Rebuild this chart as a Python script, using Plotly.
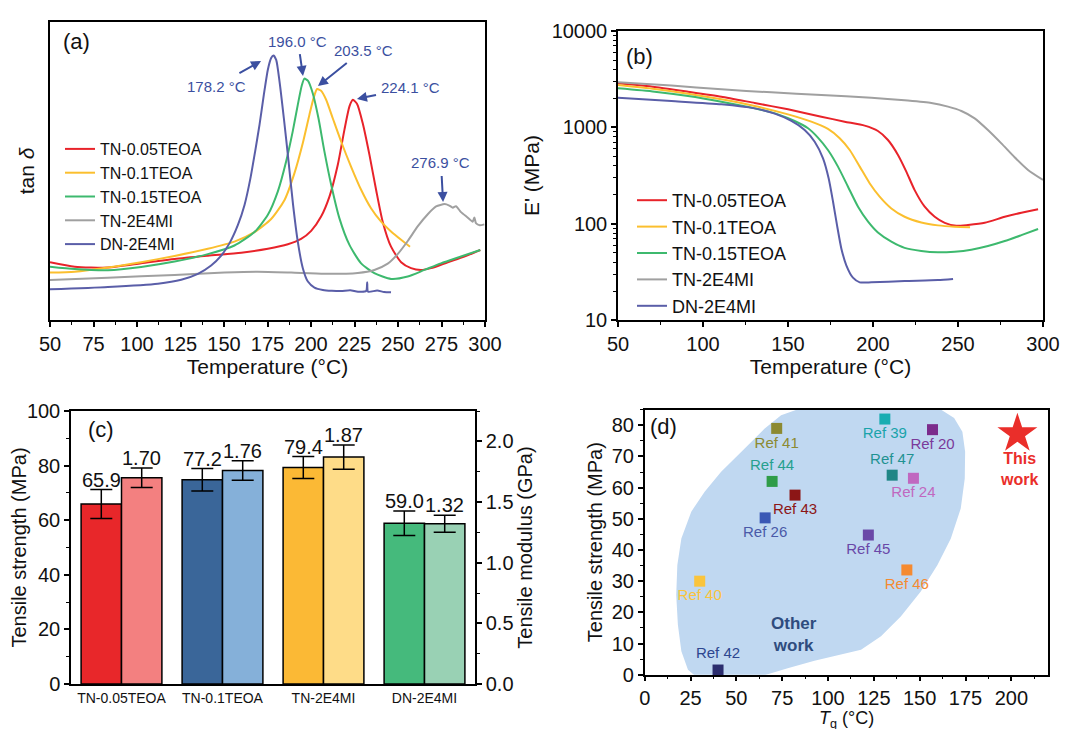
import plotly.graph_objects as go

# ---------------- (a) tan delta vs temperature (relative units) ----------------
a_T_red = [50.0, 64.2, 83.3, 102.4, 121.6, 140.7, 159.9, 175.2, 186.7, 194.3, 200.1, 205.8, 210.6, 215.4,
           219.2, 222.1, 224.1, 226.5, 229.7, 233.6, 237.4, 241.2, 246.0, 251.8, 257.5, 263.2, 269.0,
           278.6, 288.1, 297.3]
a_tan_red = [0.194, 0.179, 0.176, 0.190, 0.205, 0.216, 0.226, 0.239, 0.254, 0.272, 0.299, 0.347, 0.414,
             0.521, 0.638, 0.717, 0.739, 0.725, 0.661, 0.554, 0.437, 0.330, 0.246, 0.194, 0.174, 0.168,
             0.174, 0.194, 0.213, 0.235]

a_T_yellow = [50.0, 64.2, 83.3, 102.4, 121.6, 140.7, 156.0, 167.5, 177.1, 184.8, 190.5, 195.3, 199.1,
              201.6, 203.5, 205.8, 208.7, 212.5, 217.3, 223.0, 228.8, 234.5, 240.3, 246.0, 251.8, 256.9]
a_tan_yellow = [0.159, 0.162, 0.176, 0.194, 0.215, 0.239, 0.263, 0.295, 0.339, 0.403, 0.493, 0.594,
                0.689, 0.747, 0.775, 0.769, 0.739, 0.677, 0.599, 0.515, 0.437, 0.375, 0.330, 0.297,
                0.269, 0.246]

a_T_green = [50.0, 64.2, 83.3, 102.4, 121.6, 140.7, 156.0, 167.5, 175.2, 180.9, 185.7, 189.5, 192.4,
             194.7, 196.2, 198.2, 201.0, 204.3, 207.7, 211.6, 216.3, 222.1, 228.8, 236.4, 246.0, 255.6,
             265.2, 274.7, 286.2, 297.3]
a_tan_green = [0.179, 0.171, 0.167, 0.178, 0.196, 0.221, 0.250, 0.295, 0.353, 0.431, 0.532, 0.633,
               0.722, 0.787, 0.810, 0.803, 0.761, 0.677, 0.566, 0.454, 0.342, 0.252, 0.190, 0.157,
               0.138, 0.146, 0.168, 0.190, 0.213, 0.235]

a_T_gray = [50.0, 83.3, 121.6, 150.3, 169.4, 188.6, 207.7, 226.9, 236.4, 244.1, 249.8, 255.6, 261.3,
            267.1, 271.9, 276.8, 279.5, 281.5, 283.3, 286.2, 290.0, 292.9, 293.9, 294.8, 297.0, 299.6]
a_tan_gray = [0.134, 0.142, 0.151, 0.159, 0.162, 0.159, 0.155, 0.158, 0.168, 0.189, 0.221, 0.265,
              0.314, 0.355, 0.381, 0.389, 0.384, 0.377, 0.382, 0.362, 0.344, 0.330, 0.344, 0.325,
              0.318, 0.321]

a_T_blue = [50.0, 83.3, 112.0, 125.4, 135.0, 142.6, 148.4, 153.2, 158.0, 161.8, 165.2, 167.9, 170.4,
            172.9, 175.2, 177.1, 178.4, 180.0, 181.9, 184.4, 187.1, 189.7, 192.4, 195.3, 198.2, 202.0,
            206.8, 212.0, 217.3, 222.5, 227.0, 231.7, 232.3, 232.8, 238.0, 242.0, 246.0]
a_tan_blue = [0.103, 0.111, 0.122, 0.135, 0.155, 0.183, 0.216, 0.258, 0.319, 0.386, 0.476, 0.566,
              0.655, 0.756, 0.840, 0.879, 0.888, 0.873, 0.801, 0.677, 0.532, 0.386, 0.263, 0.174,
              0.129, 0.109, 0.101, 0.098, 0.097, 0.100, 0.095, 0.097, 0.127, 0.095, 0.099, 0.094, 0.093]

peak_labels = ["178.2 °C", "196.0 °C", "203.5 °C", "224.1 °C", "276.9 °C"]

# ---------------- (b) storage modulus E' (MPa) ----------------
b_T_red = [50, 71.6, 91.2, 110.8, 130.4, 150.0, 169.6, 183.3, 195.1, 202.9, 208.8, 214.7, 219.6, 224.5,
           230.4, 236.3, 242.2, 249.0, 255.9, 265.7, 277.5, 287.3, 297.1]
b_E_red = [2864, 2624, 2345, 2081, 1790, 1538, 1291, 1145, 1041, 916, 739, 517, 347, 223, 150, 118,
           102, 95, 97, 102, 118, 130, 141]

b_T_yellow = [50, 71.6, 91.2, 110.8, 130.4, 150.0, 163.7, 173.5, 180.4, 186.3, 192.2, 198.0, 203.9,
              210.8, 218.6, 228.4, 238.2, 248.0, 257.1]
b_E_yellow = [2748, 2500, 2236, 1953, 1665, 1364, 1146, 962, 770, 582, 391, 263, 191, 144, 118, 103,
              96, 93, 92]

b_T_green = [50, 71.6, 91.2, 110.8, 130.4, 144.1, 153.9, 161.8, 167.6, 173.5, 179.4, 185.3, 191.2,
             197.1, 202.9, 210.8, 218.6, 228.4, 238.2, 248.0, 257.8, 267.6, 277.5, 287.3, 297.1]
b_E_green = [2541, 2345, 2114, 1846, 1574, 1364, 1164, 977, 782, 582, 391, 242, 150, 105, 81, 65, 56,
             52, 50.4, 51.2, 53.7, 58.6, 66, 76, 88]

b_T_gray = [50, 81.4, 110.8, 140.2, 169.6, 199.0, 218.6, 234.3, 244.1, 252.0, 259.8, 267.6, 275.5,
            283.3, 291.2, 300.0]
b_E_gray = [2932, 2710, 2478, 2307, 2167, 2033, 1907, 1790, 1640, 1479, 1240, 938, 682, 489, 361, 284]

b_T_blue = [50, 81.4, 110.8, 130.4, 142.2, 152.0, 159.8, 165.7, 170.6, 173.9, 176.5, 178.8, 181.4,
            184.3, 188.2, 192.2, 199.0, 218.6, 238.2, 247.1]
b_E_blue = [2033, 1876, 1734, 1574, 1386, 1164, 938, 709, 476, 296, 169, 97, 55, 37, 27.5, 24.6, 24.6,
            25.4, 26.0, 26.7]

b_tickvals = [10, 100, 1000, 10000]
b_ticktext = ["10", "100", "1000", "10000"]

series_names = ["TN-0.05TEOA", "TN-0.1TEOA", "TN-0.15TEOA", "TN-2E4MI", "DN-2E4MI"]
series_colors = ["#e8232a", "#fbbf2e", "#3db96e", "#a0a0a0", "#5a5ea8"]

# ---------------- (c) tensile properties ----------------
c_cats = ["TN-0.05TEOA", "TN-0.1TEOA", "TN-2E4MI", "DN-2E4MI"]
c_strength = [65.9, 74.8, 79.3, 58.9]
c_strength_err = [5.3, 4.1, 4.0, 4.5]
c_strength_labels = ["65.9", "77.2", "79.4", "59.0"]
c_modulus = [1.70, 1.76, 1.87, 1.32]
c_modulus_err = [0.08, 0.08, 0.10, 0.07]
c_modulus_labels = ["1.70", "1.76", "1.87", "1.32"]
c_strength_colors = ["#e8272a", "#3a6699", "#fbb935", "#45ba7c"]
c_modulus_colors = ["#f38080", "#85b0d9", "#fedc88", "#99d1b4"]

# ---------------- (d) Tg vs tensile strength ----------------
d_refs = ["Ref 41", "Ref 39", "Ref 20", "Ref 44", "Ref 47", "Ref 24", "Ref 43", "Ref 26", "Ref 45",
          "Ref 46", "Ref 40", "Ref 42"]
d_Tg = [72, 131, 157, 69.5, 135, 146.6, 82, 65.7, 122, 143, 30, 40]
d_TS = [79, 82, 78.6, 62, 64, 63, 57.6, 50.3, 44.8, 33.6, 30, 1.5]
d_marker_colors = ["#8c8a32", "#19adb2", "#7b2c8c", "#2f9c48", "#1f8686", "#c068c0", "#8c1616",
                   "#3a58b5", "#6a48a8", "#f58a30", "#fac43c", "#2b2d6e"]
d_label_colors = ["#8c8a32", "#19a3aa", "#7a3a9a", "#26a08e", "#1f9292", "#c068c0", "#8c1616",
                  "#4a5aa8", "#6a48a8", "#f58a30", "#fac43c", "#2d4690"]
d_label_pos = ["bottom center", "bottom center", "bottom center", "top center", "top center",
               "bottom center", "bottom center", "bottom center", "bottom center", "bottom center",
               "bottom center", "top center"]
d_this_Tg = [203.3]
d_this_TS = [77.3]
d_blob_Tg = [17.2, 17.8, 20.0, 25.4, 32.7, 41.7, 54.4, 65.3, 74.4, 85.3, 96.2, 114.3, 132.5, 150.6,
             161.5, 168.8, 173.3, 174.8, 174.6, 172.4, 167.0, 159.7, 150.6, 139.7, 128.9, 118.0, 107.1,
             92.6, 78.0, 63.5, 50.8, 38.1, 29.0, 23.6, 20.0, 18.1, 17.2]
d_blob_TS = [25.6, 35.2, 43.7, 52.3, 58.7, 65.1, 72.5, 78.9, 83.2, 85.5, 86.4, 86.6, 86.6, 86.4, 85.1,
             82.3, 77.9, 71.5, 62.9, 53.3, 43.7, 35.2, 26.7, 18.7, 12.3, 8.0, 6.4, 4.5, 2.1, -0.5, -2.1,
             -2.3, -1.1, 1.6, 7.5, 16.0, 25.6]

# ---------------- figure ----------------
W, H = 1070, 729
FONT = "Arial, Liberation Sans, sans-serif"
ANN_BLUE = "#3b4fa0"


def px(x):
    return x / W


def py(y):
    return 1 - y / H


fig = go.Figure()

a_data = [(a_T_red, a_tan_red), (a_T_yellow, a_tan_yellow), (a_T_green, a_tan_green),
          (a_T_gray, a_tan_gray), (a_T_blue, a_tan_blue)]
for (xs, ys), name, col in zip(a_data, series_names, series_colors):
    fig.add_trace(go.Scatter(x=xs, y=ys, mode="lines", name=name, xaxis="x", yaxis="y",
                             line=dict(color=col, width=2, shape="spline", smoothing=0.6),
                             legend="legend"))

b_data = [(b_T_red, b_E_red), (b_T_yellow, b_E_yellow), (b_T_green, b_E_green),
          (b_T_gray, b_E_gray), (b_T_blue, b_E_blue)]
for (xs, ys), name, col in zip(b_data, series_names, series_colors):
    fig.add_trace(go.Scatter(x=xs, y=ys, mode="lines", name=name, xaxis="x2", yaxis="y2",
                             line=dict(color=col, width=2, shape="spline", smoothing=0.6),
                             legend="legend2"))

fig.add_trace(go.Bar(x=c_cats, y=c_strength, xaxis="x3", yaxis="y3", offsetgroup="s",
                     marker=dict(color=c_strength_colors, line=dict(color="black", width=1.5)),
                     error_y=dict(type="data", array=c_strength_err, color="black", thickness=1.5,
                                  width=11),
                     showlegend=False))
fig.add_trace(go.Bar(x=c_cats, y=c_modulus, xaxis="x3", yaxis="y4", offsetgroup="m",
                     marker=dict(color=c_modulus_colors, line=dict(color="black", width=1.5)),
                     error_y=dict(type="data", array=c_modulus_err, color="black", thickness=1.5,
                                  width=11),
                     showlegend=False))

fig.add_trace(go.Scatter(x=d_blob_Tg, y=d_blob_TS, xaxis="x4", yaxis="y5", mode="lines",
                         fill="toself", fillcolor="rgb(192,216,241)", line=dict(width=0),
                         hoverinfo="skip", showlegend=False))
fig.add_trace(go.Scatter(x=d_Tg, y=d_TS, xaxis="x4", yaxis="y5", mode="markers+text",
                         text=d_refs, textposition=d_label_pos,
                         textfont=dict(color=d_label_colors, size=15, family=FONT),
                         marker=dict(symbol="square", size=11, color=d_marker_colors),
                         cliponaxis=False, showlegend=False))
fig.add_trace(go.Scatter(x=d_this_Tg, y=d_this_TS, xaxis="x4", yaxis="y5", mode="markers",
                         marker=dict(symbol="star", size=30, color="#ea2e2a"),
                         cliponaxis=False, showlegend=False))


def axis(**kw):
    base = dict(showline=True, linecolor="black", linewidth=1.5, mirror=True, ticks="outside",
                ticklen=5, tickwidth=1.5, tickcolor="black", showgrid=False, zeroline=False,
                automargin=False,
                tickfont=dict(size=20, color="#111", family=FONT),
                title_font=dict(size=21, color="#111", family=FONT))
    base.update(kw)
    return base


minor_ticks = dict(ticks="outside", ticklen=3, tickwidth=1.2, tickcolor="black", showgrid=False)

log_minor = [m * 10 ** k for k in range(1, 4) for m in range(2, 10)]

annotations = []
# panel labels
for lab, (x0, y0) in zip(["(a)", "(b)", "(c)", "(d)"], [(68, 34), (631, 49), (93, 422), (655, 418)]):
    annotations.append(dict(x=px(x0), y=py(y0), xref="paper", yref="paper", text=lab,
                            xanchor="center", yanchor="middle",
                            showarrow=False, font=dict(size=22, color="#111", family=FONT)))

# (a) peak labels with arrows (label centre -> arrow head, data coords)
label_xy = [(145.4, 0.785), (192.5, 0.936), (229.9, 0.906), (256.9, 0.779), (274.7, 0.527)]
arrow_heads = [(171.3, 0.869), (195.4, 0.819), (204.0, 0.785), (226.4, 0.742), (275.9, 0.396)]
for txt, (lx, ly), (hx, hy) in zip(peak_labels, label_xy, arrow_heads):
    annotations.append(dict(x=hx, y=hy, ax=lx, ay=ly, xref="x", yref="y", axref="x", ayref="y",
                            text=txt, xanchor="center", yanchor="middle",
                            showarrow=True, arrowhead=2, arrowsize=1, arrowwidth=2,
                            arrowcolor=ANN_BLUE, standoff=0, borderpad=4,
                            font=dict(size=15, color=ANN_BLUE, family=FONT)))

# (c) value labels above error bars
for i, c in enumerate(c_cats):
    annotations.append(dict(x=c, y=c_strength[i] + c_strength_err[i], xref="x3", yref="y3",
                            text=c_strength_labels[i], showarrow=False, xanchor="center",
                            yanchor="bottom", xshift=-20, yshift=-3,
                            font=dict(size=20, color="#111", family=FONT)))
    annotations.append(dict(x=c, y=c_modulus[i] + c_modulus_err[i], xref="x3", yref="y4",
                            text=c_modulus_labels[i], showarrow=False, xanchor="center",
                            yanchor="bottom", xshift=20, yshift=-3,
                            font=dict(size=20, color="#111", family=FONT)))

# (d) text
annotations.append(dict(x=204.4, y=65.9, xref="x4", yref="y5", text="<b>This<br>work</b>",
                        xanchor="center", yanchor="middle",
                        showarrow=False, font=dict(size=16, color="#ea2e2a", family=FONT)))
annotations.append(dict(x=81.7, y=12.8, xref="x4", yref="y5", text="<b>Other<br>work</b>",
                        xanchor="center", yanchor="middle",
                        showarrow=False, font=dict(size=17, color="#2f4c7e", family=FONT)))
# (d) x-axis title, placed just above the bottom edge so it stays fully visible
annotations.append(dict(x=(px(636.7) + px(1040)) / 2, y=py(711), xref="paper", yref="paper",
                        text="<i>T</i><sub>g</sub> (°C)", xanchor="center", yanchor="middle",
                        showarrow=False, font=dict(size=18, color="#111", family=FONT)))

fig.update_layout(
    width=W, height=H, autosize=False, margin=dict(l=0, r=0, t=0, b=0, pad=0),
    paper_bgcolor="white", plot_bgcolor="white",
    font=dict(family=FONT, color="#111"),
    barmode="group", bargap=0.2, bargroupgap=0,
    xaxis=axis(domain=[px(42), px(477)], anchor="y", range=[50, 300], tick0=50, dtick=25,
               minor=dict(dtick=12.5, **minor_ticks),
               title=dict(text="Temperature (°C)", standoff=0)),
    yaxis=axis(domain=[py(312), py(14)], anchor="x", range=[0, 1], showticklabels=False, ticks="",
               title=dict(text="tan <i>δ</i>", standoff=8)),
    xaxis2=axis(domain=[px(610), px(1035)], anchor="y2", range=[50, 300], tick0=50, dtick=50,
                minor=dict(dtick=25, **minor_ticks),
                title=dict(text="Temperature (°C)", standoff=0)),
    yaxis2=axis(domain=[py(312), py(23)], anchor="x2", type="log", range=[1, 4],
                tickvals=b_tickvals, ticktext=b_ticktext,
                minor=dict(tickvals=log_minor, **minor_ticks),
                title=dict(text="E' (MPa)", standoff=6)),
    xaxis3=axis(domain=[px(63), px(467)], anchor="y3", type="category", range=[-0.5, 3.5],
                ticks="", tickfont=dict(size=14, color="#111", family=FONT)),
    yaxis3=axis(domain=[py(676), py(403)], anchor="x3", range=[0, 100], dtick=20, mirror=False,
                minor=dict(dtick=10, **minor_ticks),
                title=dict(text="Tensile strength (MPa)", standoff=2, font=dict(size=20))),
    yaxis4=axis(anchor="x3", overlaying="y3", side="right", range=[0, 2.25], dtick=0.5,
                tickformat=".1f", mirror=False, minor=dict(dtick=0.25, **minor_ticks),
                title=dict(text="Tensile modulus (GPa)", standoff=2, font=dict(size=20))),
    xaxis4=axis(domain=[px(636.7), px(1040)], anchor="y5", range=[0, 220], tick0=0, dtick=25,
                minor=dict(dtick=12.5, **minor_ticks)),
    yaxis5=axis(domain=[py(666.7), py(401.7)], anchor="x4", range=[0, 85], dtick=10,
                minor=dict(dtick=5, **minor_ticks),
                title=dict(text="Tensile strength (MPa)", standoff=4, font=dict(size=20))),
    legend=dict(x=px(52), y=py(124), xanchor="left", yanchor="top", bgcolor="rgba(0,0,0,0)",
                font=dict(size=16, color="#111", family=FONT), tracegroupgap=0),
    legend2=dict(x=px(624), y=py(174), xanchor="left", yanchor="top", bgcolor="rgba(0,0,0,0)",
                 font=dict(size=18, color="#111", family=FONT), tracegroupgap=0),
    annotations=annotations,
)

fig.write_html("out.html", config={"displayModeBar": False})
